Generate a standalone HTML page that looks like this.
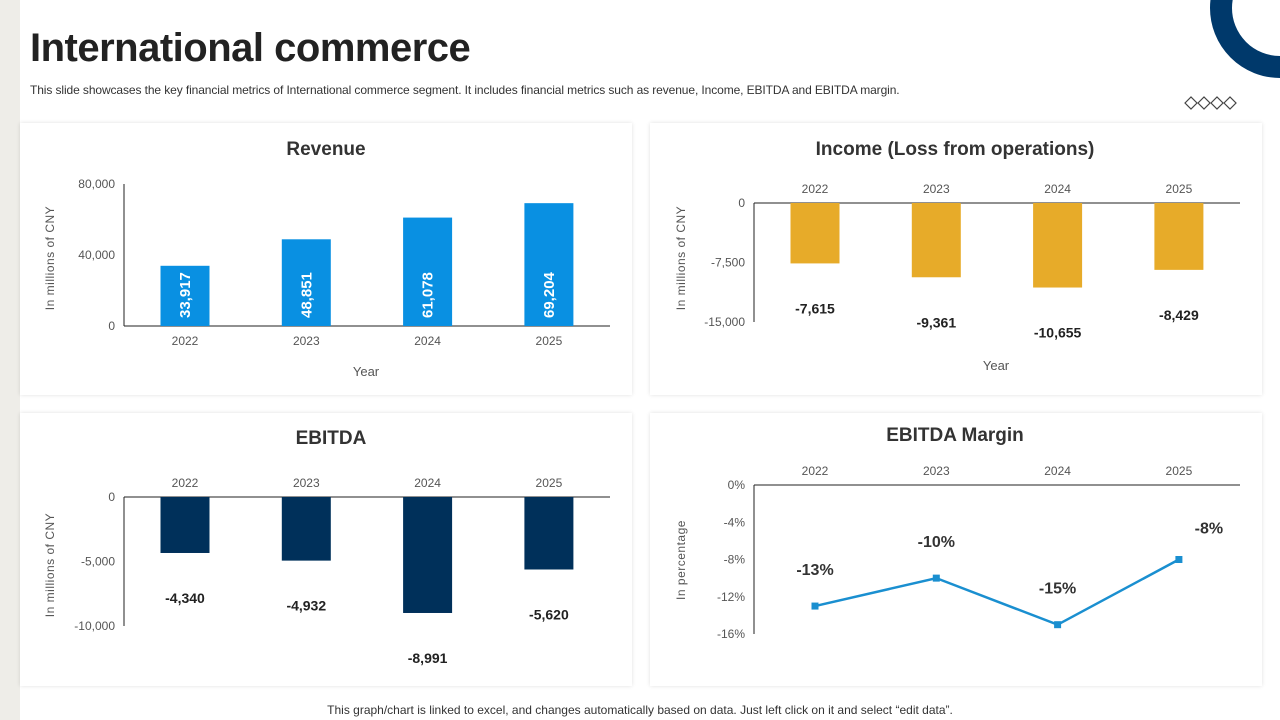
<!DOCTYPE html>
<html><head><meta charset="utf-8">
<style>
body{margin:0;width:1280px;height:720px;overflow:hidden;background:#fff;font-family:"Liberation Sans",sans-serif;position:relative}
.strip{position:absolute;left:0;top:0;width:20px;height:720px;background:#eeede8}
h1{position:absolute;left:30px;top:26px;margin:0;font-size:40px;font-weight:bold;color:#222;letter-spacing:-0.5px}
.sub{position:absolute;left:30px;top:83px;font-size:12px;color:#333;letter-spacing:-0.1px}
.foot{position:absolute;left:0;width:1280px;text-align:center;top:703px;font-size:12px;color:#333}
.card{position:absolute;background:#fff;box-shadow:0 0 4px rgba(0,0,0,0.12)}
svg{position:absolute;left:0;top:0}
</style></head><body>
<div class="strip"></div>
<h1>International commerce</h1>
<div class="sub">This slide showcases the key financial metrics of International commerce segment. It includes financial metrics such as revenue, Income, EBITDA and EBITDA margin.</div>
<div class="card" style="left:20px;top:123px;width:612px;height:272px"></div>
<div class="card" style="left:650px;top:123px;width:612px;height:272px"></div>
<div class="card" style="left:20px;top:413px;width:612px;height:273px"></div>
<div class="card" style="left:650px;top:413px;width:612px;height:273px"></div>
<div class="foot">This graph/chart is linked to excel, and changes automatically based on data. Just left click on it and select “edit data”.</div>
<svg id="s" width="1280" height="720" xmlns="http://www.w3.org/2000/svg" font-family="Liberation Sans, sans-serif">
<circle cx="1280" cy="8" r="59" fill="none" stroke="#00396b" stroke-width="22"/>
</svg>
<script>
const years=["2022","2023","2024","2025"];
const revenue=[33917,48851,61078,69204];
const income=[-7615,-9361,-10655,-8429];
const ebitda=[-4340,-4932,-8991,-5620];
const margin=[-13,-10,-15,-8];
const revTicks=[0,40000,80000];
const incTicks=[0,-7500,-15000];
const ebTicks=[0,-5000,-10000];
const marTicks=[0,-4,-8,-12,-16];

const s=document.getElementById('s');
const NS="http://www.w3.org/2000/svg";
function el(t,a,txt){const e=document.createElementNS(NS,t);for(const k in a)e.setAttribute(k,a[k]);if(txt!==undefined)e.textContent=txt;s.appendChild(e);return e;}
const fmt=v=>v.toLocaleString('en-US');

for(let i=0;i<4;i++){const cx=1191+i*13,cy=103;
const d=el('polygon',{points:`${cx-6},${cy} ${cx},${cy-6} ${cx+6},${cy} ${cx},${cy+6}`,fill:'#fff',stroke:'#444','stroke-width':1.2});

}

function xc(x0,i){return x0+61+i*121.3;}
function title(x,y,t){const e=el('text',{x:x,y:y,'text-anchor':'middle','font-size':19,'font-weight':'bold',fill:'#333'},t);

}
function ytitle(x,y,t){const e=el('text',{x:0,y:0,transform:`translate(${x},${y}) rotate(-90)`,'text-anchor':'middle','font-size':12,fill:'#555','letter-spacing':'0.5'},t);

}

function barChart(o){
 const {x0,yTop,yBot,vTop,vBot,data,ticks,color,tfmt}=o;
 const Y=v=>yTop+(vTop-v)/(vTop-vBot)*(yBot-yTop);
 const zero=Y(0);
 el('line',{x1:x0,y1:yTop,x2:x0,y2:yBot,stroke:'#222','stroke-width':1});
 el('line',{x1:x0,y1:zero,x2:x0+486,y2:zero,stroke:'#222','stroke-width':1});
 ticks.forEach(t=>{const e=el('text',{x:x0-9,y:Y(t)+4,'text-anchor':'end','font-size':12,fill:'#555'},tfmt(t));
 
 });
 data.forEach((v,i)=>{const cx=xc(x0,i);const y=Y(v);
 const r=el('rect',{x:cx-24.5,y:Math.min(y,zero),width:49,height:Math.abs(y-zero),fill:color});
 
 
 const yl=el('text',{x:cx,y:o.neg?zero-10:zero+19,'text-anchor':'middle','font-size':12,fill:'#555'},years[i]);
 
 
 let lab;
 if(o.neg){lab=el('text',{x:cx,y:y+50,'text-anchor':'middle','font-size':14,'font-weight':'bold',fill:'#222'},fmt(v));}
 else{lab=el('text',{x:0,y:0,transform:`translate(${cx+5},${zero-8}) rotate(-90)`,'font-size':15,'font-weight':'bold',fill:'#fff'},fmt(v));}
 
 });
}
title(326,155,'Revenue');
ytitle(54,258,'In millions of CNY');
barChart({x0:124,yTop:184,yBot:326,vTop:80000,vBot:0,data:revenue,ticks:revTicks,color:'#0990e2',tfmt:fmt});
let xt=el('text',{x:366,y:376,'text-anchor':'middle','font-size':13,fill:'#555'},'Year');



title(955,155,'Income (Loss from operations)');
ytitle(685,258,'In millions of CNY');
barChart({x0:754,yTop:203,yBot:322,vTop:0,vBot:-15000,data:income,ticks:incTicks,color:'#e7ab29',tfmt:fmt,neg:true});
xt=el('text',{x:996,y:370,'text-anchor':'middle','font-size':13,fill:'#555'},'Year');



title(331,444,'EBITDA');
ytitle(54,565,'In millions of CNY');
barChart({x0:124,yTop:497,yBot:626,vTop:0,vBot:-10000,data:ebitda,ticks:ebTicks,color:'#00305a',tfmt:fmt,neg:true});

title(955,441,'EBITDA Margin');
ytitle(685,560,'In percentage');
(function(){
 const x0=754,yTop=485,yBot=634;
 const Y=v=>yTop+(0-v)/16*(yBot-yTop);
 el('line',{x1:x0,y1:yTop,x2:x0,y2:yBot,stroke:'#222'});
 el('line',{x1:x0,y1:yTop,x2:1240,y2:yTop,stroke:'#222'});
 marTicks.forEach(t=>{const e=el('text',{x:x0-9,y:Y(t)+4,'text-anchor':'end','font-size':12,fill:'#555'},t+'%');
 
 });
 const pts=margin.map((v,i)=>[xc(x0,i),Y(v)]);
 const line=el('polyline',{points:pts.map(p=>p.join(',')).join(' '),fill:'none',stroke:'#1a8fd0','stroke-width':2.5});
 
 
 pts.forEach((p,i)=>{
 const m=el('rect',{x:p[0]-3.5,y:p[1]-3.5,width:7,height:7,fill:'#1a8fd0'});
 
 
 const yl=el('text',{x:p[0],y:475,'text-anchor':'middle','font-size':12,fill:'#555'},years[i]);
 
 
 const last=i===margin.length-1;
 const l=el('text',{x:last?p[0]+30:p[0],y:last?p[1]-26:p[1]-31,'text-anchor':'middle','font-size':16,'font-weight':'bold',fill:'#333'},margin[i]+'%');
 
 });
})();
</script>
</body></html>
